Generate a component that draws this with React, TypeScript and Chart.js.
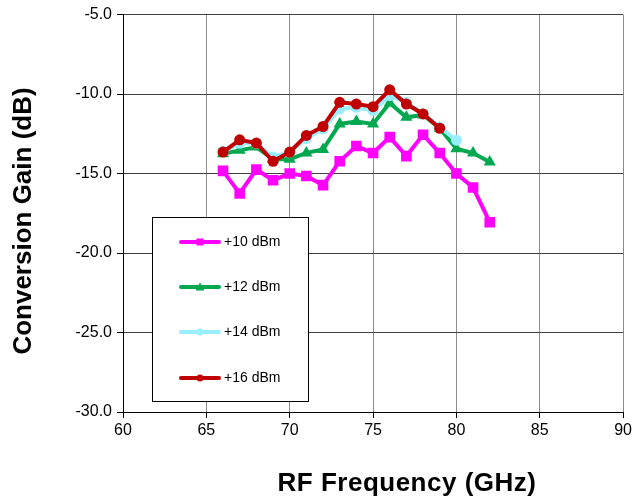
import React, { useEffect, useRef } from "react";
import { Chart, registerables } from "chart.js";

Chart.register(...registerables);

const freqs10 = [66, 67, 68, 69, 70, 71, 72, 73, 74, 75, 76, 77, 78, 79, 80, 81, 82];
const gain10 = [-14.83, -16.25, -14.75, -15.42, -15.0, -15.15, -15.73, -14.23, -13.27, -13.71, -12.71, -13.9, -12.56, -13.71, -15.0, -15.88, -18.06];

const freqs12 = [66, 67, 68, 69, 70, 71, 72, 73, 74, 75, 76, 77, 78, 79, 80, 81, 82];
const gain12 = [-13.75, -13.54, -13.33, -14.1, -14.1, -13.7, -13.48, -11.88, -11.73, -11.88, -10.56, -11.46, -11.31, -12.15, -13.44, -13.71, -14.27];

const freqs14 = [66, 67, 68, 69, 70, 71, 72, 73, 74, 75, 76, 77, 78, 79, 80];
const gain14 = [-13.6, -13.1, -13.1, -13.96, -13.65, -12.8, -12.2, -10.94, -10.83, -11.04, -10.1, -10.52, -11.25, -12.08, -12.9];

const freqs16 = [66, 67, 68, 69, 70, 71, 72, 73, 74, 75, 76, 77, 78, 79];
const gain16 = [-13.65, -12.88, -13.08, -14.23, -13.65, -12.6, -12.04, -10.52, -10.63, -10.79, -9.73, -10.63, -11.25, -12.15];

const seriesLabels = ["+10 dBm", "+12 dBm", "+14 dBm", "+16 dBm"];
const seriesColors = ["#FF00FF", "#00A84F", "#99EEFF", "#C00000"];
const seriesMarkers = ["rect", "triangle", "circle", "circle"];
const seriesRadius = [7.5, 7, 5.5, 5.5];

const xTitle = "RF Frequency (GHz)";
const yTitle = "Conversion Gain (dB)";

const FONT = "'Liberation Sans', Arial, sans-serif";

const legendPlugin = {
  id: "customLegendTitles",
  afterDraw(chart: any) {
    const ctx = chart.ctx;
    ctx.save();
    // axis titles
    ctx.fillStyle = "#000";
    ctx.font = `bold 26px ${FONT}`;
    ctx.textAlign = "center";
    ctx.textBaseline = "middle";
    try { (ctx as any).letterSpacing = "0.5px"; } catch (e) {}
    ctx.fillText(xTitle, 407, 484);
    try { (ctx as any).letterSpacing = "0px"; } catch (e) {}
    ctx.save();
    ctx.translate(24, 221);
    ctx.rotate(-Math.PI / 2);
    ctx.fillText(yTitle, 0, 0);
    ctx.restore();

    // legend box
    const bx = 152.5, by = 217.5, bw = 156, bh = 184;
    ctx.fillStyle = "#fff";
    ctx.fillRect(bx, by, bw, bh);
    ctx.strokeStyle = "#000";
    ctx.lineWidth = 1;
    ctx.strokeRect(bx, by, bw, bh);
    const ys = [242, 287, 332, 378];
    [0, 1, 2, 3].forEach((i) => {
      const ds = chart.data.datasets[i];
      const y = ys[i];
      ctx.strokeStyle = ds.borderColor;
      ctx.lineWidth = 4;
      ctx.lineCap = "round";
      ctx.beginPath();
      ctx.moveTo(181, y);
      ctx.lineTo(219, y);
      ctx.stroke();
      ctx.fillStyle = ds.borderColor;
      const r = 3.5;
      if (ds.pointStyle === "rect") {
        ctx.fillRect(200 - r, y - r, 2 * r, 2 * r);
      } else if (ds.pointStyle === "triangle") {
        ctx.beginPath();
        ctx.moveTo(200, y - r - 1);
        ctx.lineTo(200 + r + 1, y + r);
        ctx.lineTo(200 - r - 1, y + r);
        ctx.closePath();
        ctx.fill();
      } else {
        ctx.beginPath();
        ctx.arc(200, y, r, 0, Math.PI * 2);
        ctx.fill();
      }
      ctx.fillStyle = "#000";
      ctx.font = `14px ${FONT}`;
      ctx.textAlign = "left";
      ctx.textBaseline = "middle";
      ctx.fillText(ds.label, 224, y);
    });
    ctx.restore();
  },
};

function toPoints(xs: number[], ys: number[]) {
  return xs.map((x, i) => ({ x, y: ys[i] }));
}

export default function App() {
  const ref = useRef<HTMLCanvasElement | null>(null);
  useEffect(() => {
    if (!ref.current) return;
    const sets = [
      toPoints(freqs10, gain10),
      toPoints(freqs12, gain12),
      toPoints(freqs14, gain14),
      toPoints(freqs16, gain16),
    ];
    const chart = new Chart(ref.current, {
      type: "line",
      data: {
        datasets: sets.map((d, i) => ({
          label: seriesLabels[i],
          data: d,
          borderColor: seriesColors[i],
          backgroundColor: seriesColors[i],
          borderWidth: 4,
          pointStyle: seriesMarkers[i] as any,
          pointRadius: seriesRadius[i],
          pointBorderWidth: 0,
          tension: 0,
          fill: false,
          order: 4 - i,
        })),
      },
      options: {
        responsive: false,
        animation: false,
        layout: { padding: { top: 12, right: 8, left: 0, bottom: 0 } },
        plugins: {
          legend: { display: false },
          tooltip: { enabled: false },
        },
        scales: {
          x: {
            type: "linear",
            min: 60,
            max: 90,
            ticks: {
              stepSize: 5,
              color: "#000",
              font: { family: FONT, size: 16 },
              padding: 3,
              maxRotation: 0,
            },
            grid: {
              color: (c: any) => (c.index === 0 ? "#000" : "#8c8c8c"),
              lineWidth: 1,
              tickLength: 6,
              tickColor: "#000",
            },
            border: { color: "#000", width: 1 },
            afterFit: (s: any) => {
              s.height = 90;
            },
          },
          y: {
            type: "linear",
            min: -30,
            max: -5,
            ticks: {
              stepSize: 5,
              color: "#000",
              font: { family: FONT, size: 16 },
              padding: 5,
              callback: (v: any) => Number(v).toFixed(1),
            },
            grid: {
              color: "#404040",
              lineWidth: 1,
              tickLength: 6,
              tickColor: "#000",
            },
            border: { color: "#000", width: 1 },
            afterFit: (s: any) => {
              s.width = 123;
            },
          },
        },
      },
      plugins: [legendPlugin],
    });
    return () => chart.destroy();
  }, []);
  return (
    <div style={{ position: "absolute", left: 0, top: 0, width: 635, height: 502, background: "#fff" }}>
      <canvas ref={ref} width={635} height={502} style={{ display: "block" }} />
    </div>
  );
}
